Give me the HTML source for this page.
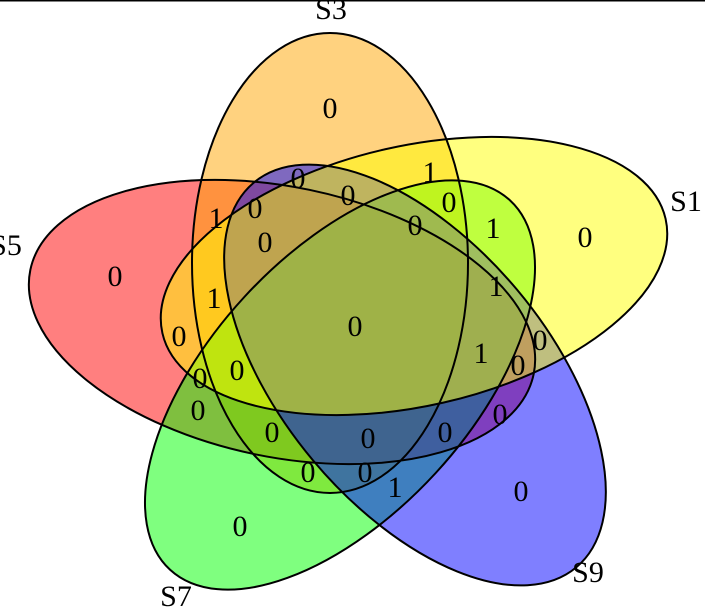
<!DOCTYPE html>
<html><head><meta charset="utf-8"><style>
html,body{margin:0;padding:0;background:#fff;overflow:hidden;width:705px;height:616px;}
svg{display:block;}
text{font-family:"Liberation Serif","Times New Roman",serif;}
</style></head><body>
<svg width="705" height="616" viewBox="0 0 705 616" xmlns="http://www.w3.org/2000/svg">
<line x1="0" y1="0.5" x2="705" y2="0.5" stroke="#000" stroke-width="2"/>
<g fill-opacity="0.5" stroke="none">
<ellipse cx="282" cy="322" rx="257" ry="135" transform="rotate(11.7 282 322)" fill="#FF0000"/>
<ellipse cx="330" cy="263" rx="138" ry="230" fill="#FFA500"/>
<ellipse cx="340" cy="385" rx="251" ry="130" transform="rotate(-47.4 340 385)" fill="#00FF00"/>
<ellipse cx="415" cy="375" rx="251" ry="133" transform="rotate(50 415 375)" fill="#0000FF"/>
<ellipse cx="414" cy="276" rx="258" ry="130" transform="rotate(-12.8 414 276)" fill="#FFFF00"/>
</g>
<g fill="none" stroke="#000" stroke-width="2">
<ellipse cx="282" cy="322" rx="257" ry="135" transform="rotate(11.7 282 322)"/>
<ellipse cx="330" cy="263" rx="138" ry="230"/>
<ellipse cx="414" cy="276" rx="258" ry="130" transform="rotate(-12.8 414 276)"/>
<ellipse cx="340" cy="385" rx="251" ry="130" transform="rotate(-47.4 340 385)"/>
<ellipse cx="415" cy="375" rx="251" ry="133" transform="rotate(50 415 375)"/>
</g>
<g style="font-size:30px" fill="#000" text-anchor="middle">
<text x="331" y="19">S3</text>
<text x="686" y="211">S1</text>
<text x="6" y="255">S5</text>
<text x="176" y="606">S7</text>
<text x="588" y="582">S9</text>
<text x="714" y="255">S</text>
</g>
<g style="font-size:30px" fill="#000" text-anchor="middle">
<text x="330" y="118">0</text>
<text x="115" y="286">0</text>
<text x="585" y="247">0</text>
<text x="240" y="536">0</text>
<text x="521" y="501">0</text>
<text x="298" y="188">0</text>
<text x="430" y="182">1</text>
<text x="348" y="205">0</text>
<text x="255" y="218">0</text>
<text x="216" y="228">1</text>
<text x="449" y="212">0</text>
<text x="493" y="238">1</text>
<text x="415" y="235">0</text>
<text x="265" y="252">0</text>
<text x="496" y="296">1</text>
<text x="214" y="308">1</text>
<text x="355" y="336">0</text>
<text x="179" y="346">0</text>
<text x="540" y="350">0</text>
<text x="481" y="363">1</text>
<text x="237" y="380">0</text>
<text x="518" y="375">0</text>
<text x="200" y="388">0</text>
<text x="198" y="420">0</text>
<text x="500" y="424">0</text>
<text x="272" y="442">0</text>
<text x="368" y="448">0</text>
<text x="445" y="442">0</text>
<text x="308" y="482">0</text>
<text x="365" y="482">0</text>
<text x="395" y="497">1</text>
</g>
</svg>
</body></html>
